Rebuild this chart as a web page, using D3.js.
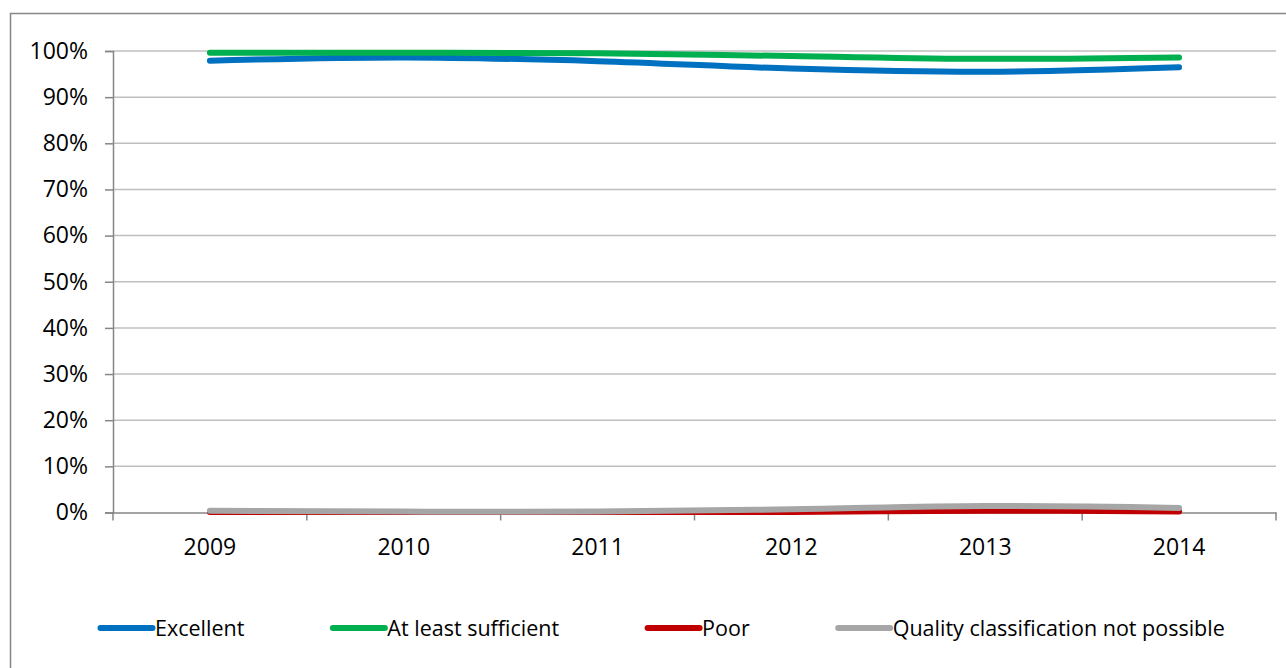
<!DOCTYPE html>
<html>
<head>
<meta charset="utf-8">
<script src="https://cdn.jsdelivr.net/npm/d3@7"></script>
<style>
  html, body { margin: 0; padding: 0; background: #fff; }
  svg { display: block; }
  text { font-family: "Open Sans", sans-serif; fill: #000; }
</style>
</head>
<body>
<svg id="chart" width="1286" height="668"></svg>
<script>
// ---- data ----
const years = ["2009", "2010", "2011", "2012", "2013", "2014"];
const seriesNames = ["Excellent", "At least sufficient", "Poor", "Quality classification not possible"];
const excellent = [0.979, 0.986, 0.978, 0.962, 0.955, 0.965];
const atLeastSufficient = [0.996, 0.996, 0.995, 0.989, 0.983, 0.986];
const poor = [0.001, 0.001, 0.001, 0.001, 0.004, 0.002];
const notPossible = [0.004, 0.002, 0.002, 0.007, 0.014, 0.010];
const yTicks = [0, 0.1, 0.2, 0.3, 0.4, 0.5, 0.6, 0.7, 0.8, 0.9, 1.0];
const colors = ["#0070C0", "#00B050", "#C00000", "#A6A6A6"];

const seriesValues = [excellent, atLeastSufficient, poor, notPossible];

// ---- layout ----
const plot = { left: 113, right: 1276, top: 51, bottom: 512.5 };

const svg = d3.select("#chart");

// outer border (extends beyond right/bottom edge)
svg.append("rect")
  .attr("x", 10.5).attr("y", 13.5)
  .attr("width", 1300).attr("height", 700)
  .attr("fill", "none").attr("stroke", "#868686").attr("stroke-width", 1.5);

const x = d3.scaleBand().domain(years).range([plot.left, plot.right]);
const y = d3.scaleLinear().domain([0, 1]).range([plot.bottom, plot.top]);

// gridlines
svg.append("g")
  .selectAll("line")
  .data(yTicks.filter(d => d > 0))
  .join("line")
  .attr("x1", plot.left).attr("x2", plot.right)
  .attr("y1", d => y(d)).attr("y2", d => y(d))
  .attr("stroke", "#BFBFBF").attr("stroke-width", 1.5);

// y axis
const yAxis = d3.axisLeft(y)
  .tickValues(yTicks)
  .tickFormat(d3.format(".0%"))
  .tickSize(8)
  .tickPadding(17);
const gy = svg.append("g")
  .attr("transform", `translate(${plot.left},0)`)
  .call(yAxis);
gy.select(".domain").attr("stroke", "#868686").attr("stroke-width", 1.5);
gy.selectAll(".tick line").attr("stroke", "#868686").attr("stroke-width", 1.5);
gy.selectAll(".tick text")
  .style("font-family", '"Open Sans", sans-serif')
  .style("font-size", "23px")
  .attr("fill", "#000");

// x axis
const xAxis = d3.axisBottom(x).tickSize(0).tickPadding(26);
const gx = svg.append("g")
  .attr("transform", `translate(0,${plot.bottom})`)
  .call(xAxis);
gx.select(".domain").attr("stroke", "#868686").attr("stroke-width", 1.5);
gx.selectAll(".tick text")
  .style("font-family", '"Open Sans", sans-serif')
  .style("font-size", "23px")
  .attr("fill", "#000");
// category boundary ticks
const boundaries = years.map(d => x(d)).concat([x(years[years.length - 1]) + x.bandwidth()]);
gx.append("g").selectAll("line")
  .data(boundaries)
  .join("line")
  .attr("x1", d => d).attr("x2", d => d)
  .attr("y1", 0).attr("y2", 8)
  .attr("stroke", "#868686").attr("stroke-width", 1.5);

// lines
const line = d3.line()
  .x((d, i) => x(years[i]) + x.bandwidth() / 2)
  .y(d => y(d))
  .curve(d3.curveCatmullRom.alpha(0));

svg.append("g")
  .selectAll("path")
  .data(seriesValues)
  .join("path")
  .attr("d", d => line(d))
  .attr("fill", "none")
  .attr("stroke", (d, i) => colors[i])
  .attr("stroke-width", 6)
  .attr("stroke-linecap", "round")
  .attr("stroke-linejoin", "round");

// legend
const legendY = 628;
const swatchLen = 57;
const gap = 86;
const lg = svg.append("g");
let cx = 98;
seriesNames.forEach((name, i) => {
  const g = lg.append("g");
  g.append("line")
    .attr("x1", cx + 2.5).attr("x2", cx + swatchLen - 2.5)
    .attr("y1", legendY).attr("y2", legendY)
    .attr("stroke", colors[i]).attr("stroke-width", 6)
    .attr("stroke-linecap", "round");
  const t = g.append("text")
    .attr("x", cx + swatchLen)
    .attr("y", legendY)
    .attr("dy", "0.35em")
    .style("font-size", "21.5px")
    .text(name);
  cx += swatchLen + t.node().getComputedTextLength() + gap;
});
</script>
</body>
</html>
